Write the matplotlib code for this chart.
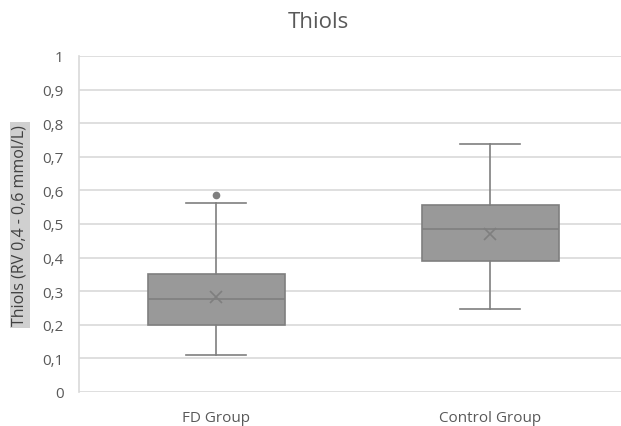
import numpy as np
import matplotlib
matplotlib.use("Agg")
import matplotlib.pyplot as plt
from matplotlib.ticker import FuncFormatter

# datos (cuartiles, bigotes, media, atipicos)
grupos = ["FD Group", "Control Group"]
q1 = [0.200, 0.389]
mediana = [0.277, 0.485]
q3 = [0.351, 0.556]
bigote_inf = [0.111, 0.247]
bigote_sup = [0.562, 0.739]
media = [0.284, 0.470]
atipicos = [[0.586], []]

plt.rcParams['font.family'] = ['Open Sans', 'DejaVu Sans']
gris_texto = "#595959"
gris_borde = "#7f7f7f"

fig = plt.figure(figsize=(6.21, 4.27), dpi=100)
ax = fig.add_axes([79 / 621, 1 - 393 / 427, 1 - 79 / 621, (393 - 57) / 427])

stats = []
for i in range(len(grupos)):
    stats.append(dict(label=grupos[i], q1=q1[i], med=mediana[i], q3=q3[i],
                      whislo=bigote_inf[i], whishi=bigote_sup[i],
                      mean=media[i], fliers=atipicos[i]))

ax.bxp(stats, positions=range(len(grupos)), widths=0.5, patch_artist=True,
       showmeans=True, meanline=False,
       boxprops=dict(facecolor="#999999", edgecolor=gris_borde, linewidth=1.2),
       medianprops=dict(color=gris_borde, linewidth=1.2),
       whiskerprops=dict(color=gris_borde, linewidth=1.2),
       capprops=dict(color=gris_borde, linewidth=1.2),
       meanprops=dict(marker="x", markeredgecolor=gris_borde, markersize=9, markeredgewidth=1.2),
       flierprops=dict(marker="o", markerfacecolor=gris_borde, markeredgecolor=gris_borde, markersize=4.5),
       capwidths=0.22, zorder=3)

ax.set_xlim(-0.5, -0.5 + 542 / 274)
ax.set_ylim(0, 1)
ax.set_yticks(np.arange(0, 1.01, 0.1))
ax.yaxis.set_major_formatter(FuncFormatter(lambda v, p: "0" if v == 0 else ("1" if abs(v - 1) < 1e-9 else f"{v:.1f}".replace(".", ","))))
ax.set_xticks(range(len(grupos)))
ax.set_xticklabels(grupos)
ax.grid(axis="y", color="#d9d9d9", linewidth=1.2, zorder=0)
ax.set_axisbelow(True)
for lado in ["top", "right", "bottom"]:
    ax.spines[lado].set_visible(False)
ax.spines["left"].set_color("#d9d9d9")
ax.spines["left"].set_linewidth(1.2)
ax.tick_params(axis="both", length=0, colors=gris_texto, labelsize=11)
ax.tick_params(axis="y", pad=11)
ax.tick_params(axis="x", pad=13)

fig.text(0.512, 1 - 22 / 427, "Thiols", ha="center", va="center", fontsize=16, color=gris_texto)
fig.text(20 / 621, 1 - 226 / 427, "Thiols (RV 0,4 - 0,6 mmol/L)", rotation=90, ha="center", va="center",
         fontsize=11.5, color="#404040",
         bbox=dict(boxstyle="square,pad=0.15", facecolor="#d0d0d0", edgecolor="none"))

fig.savefig("out.png", dpi=100)
